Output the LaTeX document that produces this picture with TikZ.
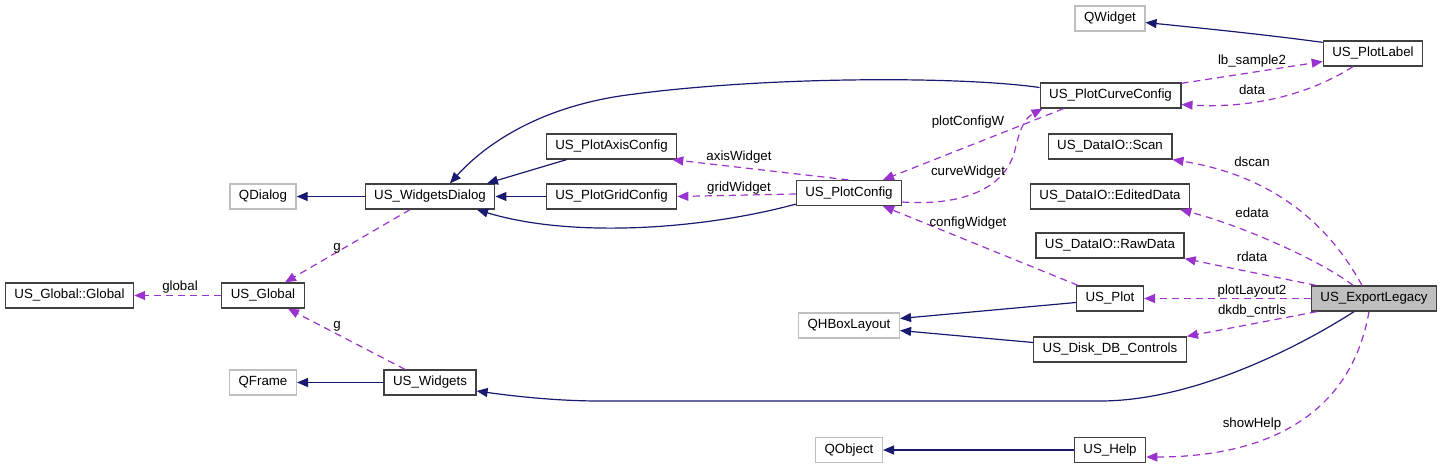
\documentclass[tikz,border=0pt]{standalone}
\usepackage{fontspec}
\setmainfont{Liberation Sans}
\usepackage{xcolor}
\usetikzlibrary{arrows.meta}
\definecolor{inhcol}{HTML}{191970}
\definecolor{usecol}{HTML}{9A32CD}
\definecolor{extcol}{HTML}{BFBFBF}

\begin{document}
\begin{tikzpicture}[
    x=1pt, y=-1pt,
    cls/.style={draw=black!75, line width=1.3pt, fill=white, minimum height=25pt, inner xsep=9pt, inner ysep=0pt, text height=9.6pt, text depth=2.8pt, font=\fontsize{13.3}{15}\selectfont},
    extcls/.style={cls, draw=extcol},
    inherit/.style={draw=inhcol, line width=1.2pt, -{Triangle[length=11pt,width=9pt]}},
    member/.style={draw=usecol, line width=1.2pt, dash pattern=on 7pt off 5pt, -{Triangle[length=11pt,width=9pt]}},
    lbl/.style={inner sep=0pt, text height=9.6pt, text depth=2.8pt, font=\fontsize{13.3}{15}\selectfont}
]
\useasboundingbox (0,0) rectangle (1443,469);

\node[extcls] (qwidget) at (1110,18.5) {QWidget};
\node[cls] (plotlabel) at (1373,53.5) {US\_PlotLabel};
\node[cls] (curvecfg) at (1110.5,95.5) {US\_PlotCurveConfig};
\node[cls] (scan) at (1110,146.5) {US\_DataIO::Scan};
\node[cls] (edited) at (1110,196.5) {US\_DataIO::EditedData};
\node[cls] (rawdata) at (1110,245.5) {US\_DataIO::RawData};
\node[cls] (axiscfg) at (611.5,146.5) {US\_PlotAxisConfig};
\node[cls] (gridcfg) at (611.5,196.5) {US\_PlotGridConfig};
\node[cls] (plotcfg) at (849,193) {US\_PlotConfig};
\node[extcls] (qdialog) at (263,196.5) {QDialog};
\node[cls] (wdialog) at (430,196.5) {US\_WidgetsDialog};
\node[cls] (globalns) at (69.5,295.5) {US\_Global::Global};
\node[cls] (global) at (263,295.5) {US\_Global};
\node[cls] (plot) at (1110,298.5) {US\_Plot};
\node[cls, fill=extcol] (export) at (1374,298.5) {US\_ExportLegacy};
\node[extcls] (qhbox) at (849,325.5) {QHBoxLayout};
\node[cls] (diskdb) at (1110,349.5) {US\_Disk\_DB\_Controls};
\node[extcls] (qframe) at (263,382.5) {QFrame};
\node[cls] (widgets) at (430,382.5) {US\_Widgets};
\node[extcls] (qobject) at (849,450) {QObject};
\node[cls] (help) at (1110,450) {US\_Help};

\draw[inherit] ([yshift=-2pt]plotlabel.north west) .. controls (1260,34) and (1200,28) .. ([yshift=-4pt]qwidget.east);
\draw[inherit] ([yshift=8pt]curvecfg.west) .. controls (960,76) and (760,76) .. (620,96)
    .. controls (530,110) and (480,150) .. ([xshift=20pt]wdialog.north);
\draw[inherit] ([xshift=-45pt]axiscfg.south) -- ([xshift=57pt]wdialog.north);
\draw[inherit] (gridcfg.west) -- (wdialog.east);
\draw[inherit] ([yshift=2pt]plotcfg.south west) .. controls (700,230) and (570,238) .. ([xshift=47pt]wdialog.south);
\draw[inherit] (wdialog.west) -- (qdialog.east);
\draw[inherit] ([yshift=-4pt]plot.west) -- ([yshift=7pt]qhbox.east);
\draw[inherit] ([yshift=7pt]diskdb.west) -- ([yshift=-5pt]qhbox.east);
\draw[inherit] (widgets.west) -- (qframe.east);
\draw[inherit] ([xshift=-20pt]export.south) .. controls (1310,340) and (1200,401) .. (1100,401)
    -- (600,401) .. controls (560,401) and (520,397) .. ([yshift=-8.5pt]widgets.east);
\draw[inherit] (help.west) -- (qobject.east);

\draw[member] ([yshift=-1pt]curvecfg.north east) -- ([yshift=-8pt]plotlabel.west)
    node[lbl] (l-sample) at (1252,61) {lb\_sample2};
\draw[member] ([xshift=-20pt]plotlabel.south) .. controls (1300,100) and (1240,108) .. ([yshift=-9pt]curvecfg.east)
    node[lbl] (l-data) at (1252,91) {data};
\draw[member] ([xshift=-47pt]curvecfg.south) -- ([xshift=34pt]plotcfg.north)
    node[lbl] (l-plotcfgw) at (968,122) {plotConfigW};
\draw[member] ([yshift=-9pt]plotcfg.east) .. controls (960,206) and (1005,190) .. (1015,150)
    .. controls (1020,128) and (1025,118) .. ([xshift=3pt]curvecfg.south west)
    node[lbl] (l-curvew) at (968,172) {curveWidget};
\draw[member] ([xshift=-54pt]plotcfg.north east) -- ([xshift=-5pt]axiscfg.south east)
    node[lbl] (l-axisw) at (739,157) {axisWidget};
\draw[member] ([yshift=-1pt]plotcfg.west) -- (gridcfg.east)
    node[lbl] (l-gridw) at (739,188) {gridWidget};
\draw[member] ([xshift=2pt]plot.north west) -- ([xshift=34pt]plotcfg.south)
    node[lbl] (l-configw) at (968,223) {configWidget};
\draw[member] ([xshift=-20pt]wdialog.south) -- ([xshift=22pt]global.north)
    node[lbl] (l-g1) at (337,247) {g};
\draw[member] ([xshift=-25pt]widgets.north) -- ([xshift=25pt]global.south)
    node[lbl] (l-g2) at (337,325) {g};
\draw[member] (global.west) -- (globalns.east)
    node[lbl] (l-global) at (180,287) {global};
\draw[member] ([xshift=-12pt]export.north) .. controls (1345,255) and (1300,180) .. (scan.south east)
    node[lbl] (l-dscan) at (1252,163) {dscan};
\draw[member] ([xshift=-21pt]export.north) .. controls (1320,260) and (1240,225) .. ([xshift=-10pt]edited.south east)
    node[lbl] (l-edata) at (1252,214) {edata};
\draw[member] ([xshift=-58pt]export.north) -- (rawdata.south east)
    node[lbl] (l-rdata) at (1252,258) {rdata};
\draw[member] (export.west) -- (plot.east)
    node[lbl] (l-plotlay) at (1252,291) {plotLayout2};
\draw[member] ([xshift=6pt]export.south west) -- (diskdb.north east)
    node[lbl] (l-dkdb) at (1252,311) {dkdb\_cntrls};
\draw[member] ([xshift=-5pt]export.south) .. controls (1350,420) and (1260,457) .. ([yshift=-7pt]help.east)
    node[lbl] (l-help) at (1252,424) {showHelp};
\end{tikzpicture}
\end{document}
